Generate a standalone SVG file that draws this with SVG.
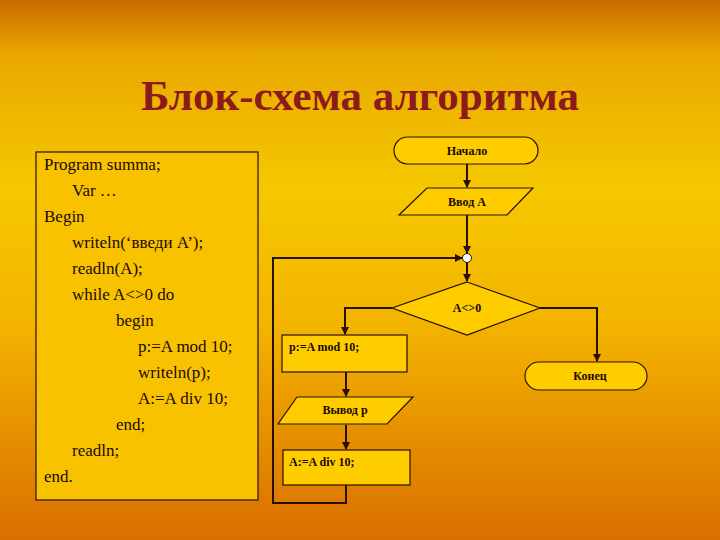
<svg xmlns="http://www.w3.org/2000/svg" width="720" height="540" viewBox="0 0 720 540">
<defs>
<linearGradient id="bg" x1="0" y1="0" x2="0" y2="1">
<stop offset="0" stop-color="#C96A00"/>
<stop offset="0.1" stop-color="#E9A800"/>
<stop offset="0.35" stop-color="#F6C800"/>
<stop offset="0.6" stop-color="#F3B400"/>
<stop offset="1" stop-color="#D96E00"/>
</linearGradient>
<marker id="ar" markerWidth="8" markerHeight="8" refX="7" refY="4" orient="auto" markerUnits="userSpaceOnUse">
<path d="M0,0 L8,4 L0,8 z" fill="#2a1000"/>
</marker>
<style>
.sh{fill:#FFCC00;stroke:#2a1000;stroke-width:1.2}
.lb{font-family:"Liberation Serif",serif;font-weight:bold;font-size:12px;fill:#1a0a00}
.cd{font-family:"Liberation Serif",serif;font-size:17px;fill:#1a0a00}
.cn{fill:none;stroke:#2a1000;stroke-width:2}
</style>
</defs>
<rect width="720" height="540" fill="url(#bg)"/>
<text x="360" y="110" text-anchor="middle" font-family="Liberation Serif,serif" font-weight="bold" font-size="43" fill="#8B1A1A">Блок-схема алгоритма</text>
<g id="code">
<rect x="36" y="152" width="222" height="348" class="sh" style="fill:#F8C200"/>
<text class="cd" x="44" y="170">Program summa;</text>
<text class="cd" x="72" y="196">Var …</text>
<text class="cd" x="44" y="222">Begin</text>
<text class="cd" x="72" y="248">writeln(‘введи A’);</text>
<text class="cd" x="72" y="274">readln(A);</text>
<text class="cd" x="72" y="300">while A&lt;&gt;0  do</text>
<text class="cd" x="116" y="326">begin</text>
<text class="cd" x="138" y="352">p:=A mod 10;</text>
<text class="cd" x="138" y="378">writeln(p);</text>
<text class="cd" x="138" y="404">A:=A div 10;</text>
<text class="cd" x="116" y="430">end;</text>
<text class="cd" x="72" y="456">readln;</text>
<text class="cd" x="44" y="482">end.</text>
</g>
<g id="connectors">
<line class="cn" x1="467" y1="164" x2="467" y2="187" marker-end="url(#ar)"/>
<line class="cn" x1="467" y1="215" x2="467" y2="253" marker-end="url(#ar)"/>
<line class="cn" x1="467" y1="262" x2="467" y2="281" marker-end="url(#ar)"/>
<polyline class="cn" points="392,308 345,308 345,334" marker-end="url(#ar)"/>
<polyline class="cn" points="540,308 597,308 597,361" marker-end="url(#ar)"/>
<line class="cn" x1="346" y1="372" x2="346" y2="396" marker-end="url(#ar)"/>
<line class="cn" x1="346" y1="425" x2="346" y2="449" marker-end="url(#ar)"/>
<polyline class="cn" points="346,485 346,503 273,503 273,258 462,258" marker-end="url(#ar)"/>
</g>
<g id="start"><rect x="394" y="137" width="144" height="27" rx="13.5" class="sh"/><text class="lb" x="467" y="155" text-anchor="middle">Начало</text></g>
<g id="input"><polygon points="427,188 533,188 507,215 399,215" class="sh"/><text class="lb" x="467" y="206" text-anchor="middle">Ввод A</text></g>
<g id="join"><circle cx="467" cy="258" r="4.5" fill="#fff" stroke="#2a1000"/></g>
<g id="cond"><polygon points="467,282 540,308 467,335 392,308" class="sh"/><text class="lb" x="467" y="312" text-anchor="middle">A&lt;&gt;0</text></g>
<g id="mod"><rect x="282" y="335" width="125" height="37" class="sh"/><text class="lb" x="289" y="351">p:=A mod 10;</text></g>
<g id="end"><rect x="525" y="362" width="122" height="28" rx="14" class="sh"/><text class="lb" x="590" y="380" text-anchor="middle">Конец</text></g>
<g id="output"><polygon points="297,397 413,397 387,424 278,424" class="sh"/><text class="lb" x="345" y="414" text-anchor="middle">Вывод   p</text></g>
<g id="div"><rect x="283" y="450" width="127" height="35" class="sh"/><text class="lb" x="289" y="466">A:=A div 10;</text></g>
</svg>
